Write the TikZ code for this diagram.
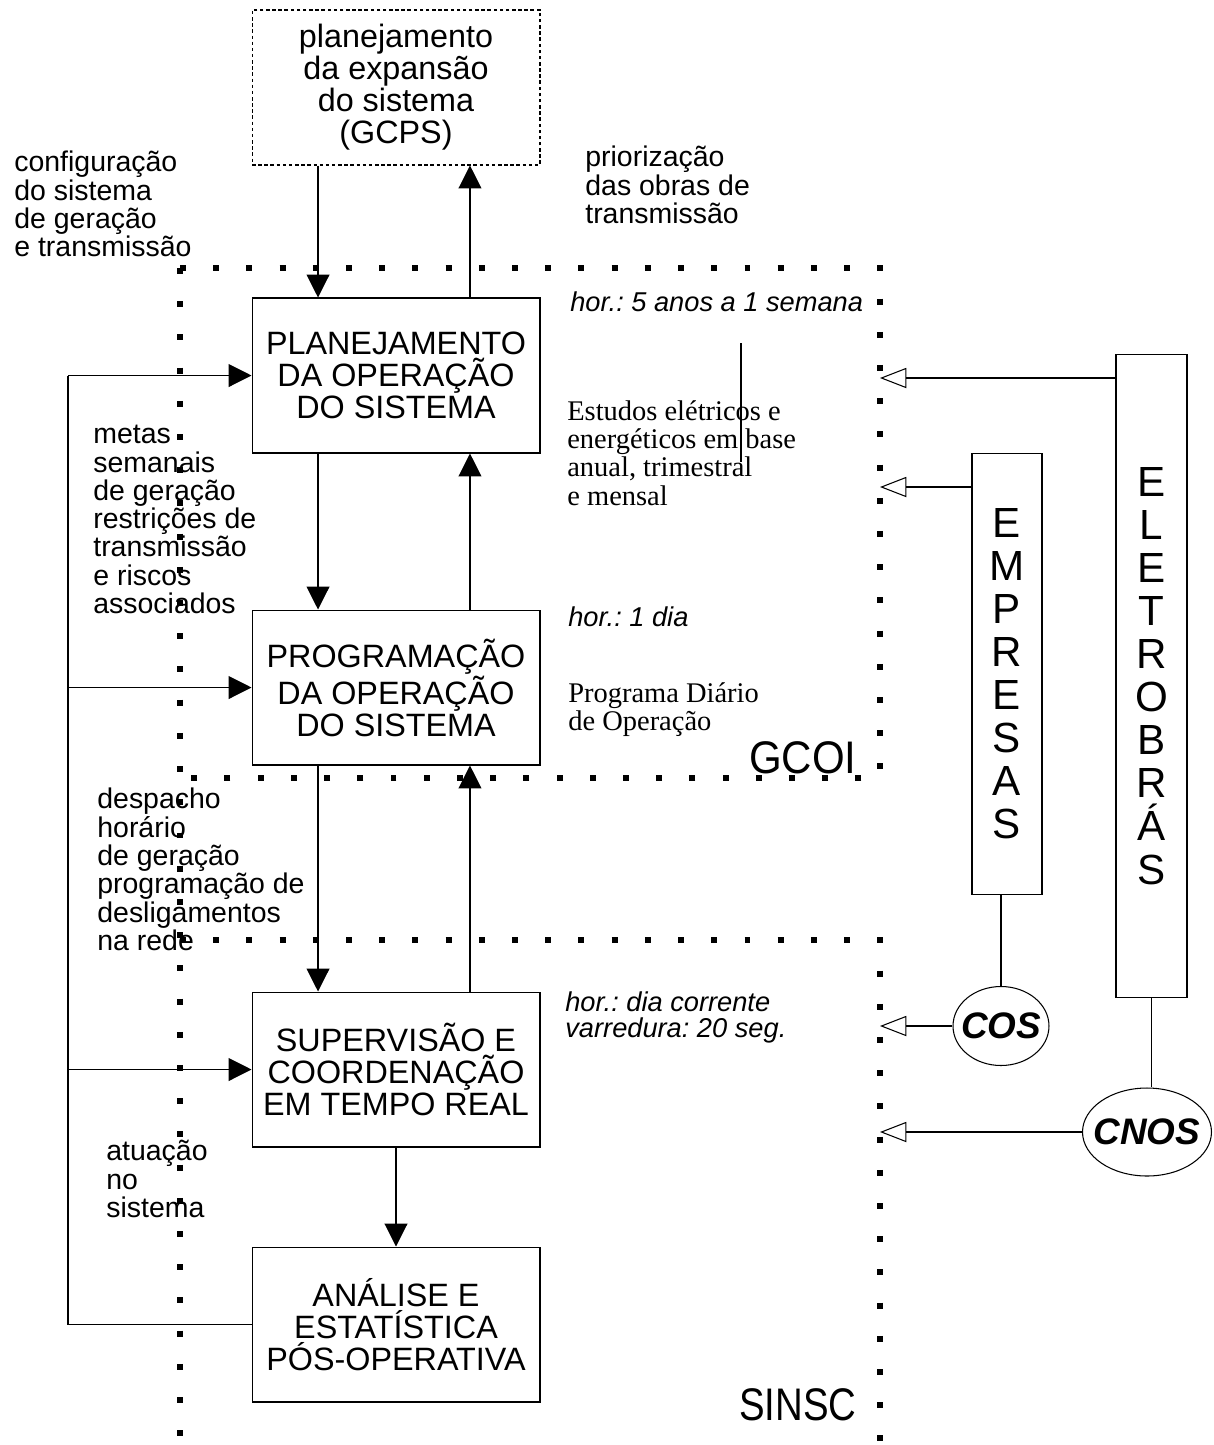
\documentclass[tikz,border=0pt]{standalone}
\usepackage{fontspec}
\setmainfont{Liberation Sans}
\newfontfamily\timesfont{Liberation Serif}
\usetikzlibrary{arrows.meta,shapes.geometric}
\frenchspacing

\begin{document}
\begin{tikzpicture}[x=0.02cm,y=-0.02cm,
  stage/.style={draw,line width=0.6pt,minimum width=5.76cm,minimum height=3.1cm,
    align=center,inner sep=0pt,font=\fontsize{18.4}{18.2}\selectfont},
  note/.style={anchor=north west,align=left,inner sep=0pt,font=\fontsize{16.2}{16.1}\selectfont},
  horiz/.style={anchor=north west,align=left,inner sep=0pt,font=\fontsize{15.5}{15}\selectfont\itshape},
  study/.style={anchor=north west,align=left,inner sep=0pt,font=\fontsize{16.2}{16.1}\selectfont\timesfont},
  column/.style={draw,line width=0.6pt,align=center,inner sep=0pt,font=\fontsize{24}{24.5}\selectfont},
  centre/.style={draw,ellipse,line width=0.6pt,inner ysep=0pt,font=\fontsize{21}{21}\selectfont\bfseries\itshape},
  flow/.style={line width=0.6pt,-{Triangle[length=13pt,width=13pt]}},
  feed/.style={line width=0.6pt,-{Triangle[open,length=15pt,width=11.5pt]}},
  region/.style={line width=3.4pt,dash pattern=on 3.4pt off 15.5pt},
  tag/.style={anchor=base east,inner sep=0pt,font=\fontsize{26}{26}\selectfont}]

  % Fix the page size
  \useasboundingbox (0,0) rectangle (1214,1445);

  % Dotted regions (GCOI on top, SINSC below)
  \draw[region] (180,268) -- (880,268) -- (880,778) -- (180,778);
  \draw[region] (180,268) -- (180,1445);
  \draw[region] (180,940) -- (880,940) -- (880,1445);
  \node[tag] (gcoi) at (857,773) {\scalebox{0.92}[1]{GCOI}};
  \node[tag] (sinsc) at (857,1420) {\scalebox{0.84}[1]{SINSC}};

  % The chain of stages
  \node[stage,dash pattern=on 2pt off 1.5pt] (gcps) at (396,87.5)
    {\fontsize{18.4}{18.4}\selectfont planejamento\\da expansão\\do sistema\\(GCPS)};
  \node[stage] (plan) at (396,375.5) {PLANEJAMENTO\\DA OPERAÇÃO\\DO SISTEMA};
  \node[stage] (prog) at (396,687.5) {PROGRAMAÇÃO\\DA OPERAÇÃO\\DO SISTEMA};
  \node[stage] (sup) at (396,1069.5) {SUPERVISÃO E\\COORDENAÇÃO\\EM TEMPO REAL};
  \node[stage] (ana) at (396,1324.5) {ANÁLISE E\\ESTATÍSTICA\\PÓS-OPERATIVA};

  % Arrows down and up between the stages
  \draw[flow] ([xshift=-1.56cm]gcps.south) -- ([xshift=-1.56cm]plan.north);
  \draw[flow] ([xshift=1.48cm]plan.north) -- ([xshift=1.48cm]gcps.south);
  \draw[flow] ([xshift=-1.56cm]plan.south) -- ([xshift=-1.56cm]prog.north);
  \draw[flow] ([xshift=1.48cm]prog.north) -- ([xshift=1.48cm]plan.south);
  \draw[flow] ([xshift=-1.56cm]prog.south) -- ([xshift=-1.56cm]sup.north);
  \draw[flow] ([xshift=1.48cm]sup.north) -- ([xshift=1.48cm]prog.south);
  \draw[flow] (sup.south) -- (ana.north);

  % Feedback line on the left
  \coordinate (fb) at (68,1325);
  \draw[line width=0.6pt] (ana.west) -- (ana.west -| fb) -- (plan.west -| fb);
  \foreach \n in {plan,prog,sup}
    \draw[flow] (\n.west -| fb) -- (\n.west);

  % Labels on the left and top
  \node[note] (config) at (14,151) {configuração\\do sistema\\de geração\\e transmissão};
  \node[note] (prior) at (585,146) {priorização\\das obras de\\transmissão};
  \node[note] (metas) at (93,425)
    {metas\\semanais\\de geração\\restrições de\\transmissão\\e riscos\\associados};
  \node[note] (desp) at (97,788)
    {despacho\\horário\\de geração\\programação de\\desligamentos\\na rede};
  \node[note] (atua) at (106,1140) {atuação\\no\\sistema};

  % Horizons and studies on the right of the stages
  \node[horiz] (hor1) at (570,291) {hor.: 5 anos a 1 semana};
  \node[study] (estudos) at (567,400)
    {Estudos elétricos e\\energéticos em base\\anual, trimestral\\e mensal};
  \draw[line width=0.6pt] (741,343) -- (741,462);
  \node[horiz] (hor2) at (568,606) {hor.: 1 dia};
  \node[study] (pdo) at (568,682) {Programa Diário\\de Operação};
  \node[horiz] (hor3) at (565,991) {hor.: dia corrente\\varredura: 20 seg.};

  % Companies and centres on the right
  \node[column,minimum width=1.4cm,minimum height=8.84cm] (empresas) at (1007,674)
    {E\\M\\P\\R\\E\\S\\A\\S};
  \node[column,minimum width=1.42cm,minimum height=12.88cm] (eletro) at (1151.5,676)
    {E\\L\\E\\T\\R\\O\\B\\R\\Á\\S};
  \node[centre,inner xsep=-3.5pt,minimum width=1.92cm,minimum height=1.58cm] (cos) at (1001,1026) {COS};
  \node[centre,inner xsep=-5.4pt,minimum width=2.58cm,minimum height=1.76cm] (cnos) at (1147,1132) {CNOS};

  % Points on the GCOI/SINSC border
  \coordinate (edgeA) at (880,378);
  \coordinate (edgeB) at (880,487);
  \coordinate (edgeC) at (880,1026);
  \coordinate (edgeD) at (880,1132);

  % Open arrows into the border
  \draw[feed] (eletro.west |- edgeA) -- (edgeA);
  \draw[feed] (empresas.west |- edgeB) -- (edgeB);
  \draw[feed] (cos.west) -- (edgeC);
  \draw[feed] (cnos.west) -- (edgeD);

  % Links down to the centres
  \draw[line width=0.6pt] (cos.north |- empresas.south) -- (cos.north);
  \draw[line width=0.6pt] (eletro.south) -- (eletro.south |- cnos.north);

\end{tikzpicture}
\end{document}
